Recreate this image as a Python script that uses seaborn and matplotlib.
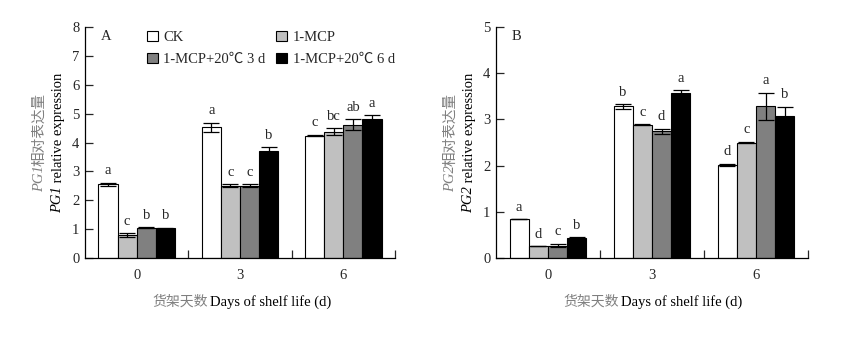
import matplotlib
matplotlib.use("Agg")
import matplotlib.pyplot as plt
import seaborn as sns
import pandas as pd
import numpy as np
from matplotlib.patches import Patch

sns.set_style("white")
plt.rcParams['font.family'] = ['Liberation Serif', 'Noto Sans CJK SC', 'DejaVu Sans']

days = ['0', '3', '6']
treatments = ['CK', '1-MCP', '1-MCP+20℃ 3 d', '1-MCP+20℃ 6 d']
colors = ['#ffffff', '#c0c0c0', '#808080', '#000000']

# Panel A: PG1
pg1_ck = [2.55, 4.52, 4.24]
pg1_mcp = [0.78, 2.50, 4.38]
pg1_3d = [1.05, 2.50, 4.62]
pg1_6d = [1.03, 3.72, 4.81]
pg1_err_ck = [0.06, 0.16, 0.03]
pg1_err_mcp = [0.07, 0.05, 0.12]
pg1_err_3d = [0.02, 0.05, 0.18]
pg1_err_6d = [0.01, 0.11, 0.13]
pg1_letters_ck = ['a', 'a', 'c']
pg1_letters_mcp = ['c', 'c', 'bc']
pg1_letters_3d = ['b', 'c', 'ab']
pg1_letters_6d = ['b', 'b', 'a']

# Panel B: PG2
pg2_ck = [0.84, 3.28, 2.02]
pg2_mcp = [0.25, 2.88, 2.50]
pg2_3d = [0.27, 2.74, 3.28]
pg2_6d = [0.43, 3.58, 3.08]
pg2_err_ck = [0.0, 0.05, 0.02]
pg2_err_mcp = [0.0, 0.01, 0.02]
pg2_err_3d = [0.04, 0.06, 0.30]
pg2_err_6d = [0.02, 0.05, 0.19]
pg2_letters_ck = ['a', 'b', 'd']
pg2_letters_mcp = ['d', 'c', 'c']
pg2_letters_3d = ['c', 'd', 'a']
pg2_letters_6d = ['b', 'a', 'b']

y_ticks_a = [0, 1, 2, 3, 4, 5, 6, 7, 8]
y_ticks_b = [0, 1, 2, 3, 4, 5]

fig = plt.figure(figsize=(8.47, 3.37), dpi=100)
axA = fig.add_axes([85/847, 1-258/337, 310/847, 231/337])
axB = fig.add_axes([496/847, 1-258/337, 312/847, 231/337])

FS = 10.5
renderer = fig.canvas.get_renderer()


def vertical_label(ax, xpx, parts):
    """parts: list of (text, style, color) drawn bottom-to-top, centered on axes mid-height."""
    w = ax.get_position().width * 847
    x = xpx / w
    texts = []
    for s, style, color in parts:
        t = ax.text(x, 0.5, s, transform=ax.transAxes, rotation=90, rotation_mode='anchor',
                    ha='left', va='center', fontsize=FS, style=style, color=color)
        texts.append(t)
    lengths = [t.get_window_extent(renderer).height for t in texts]
    total = sum(lengths)
    hpx = ax.get_position().height * 337
    start = 0.5 - (total / 2) / hpx
    pos = start
    for t, L in zip(texts, lengths):
        t.set_position((x, pos))
        pos += L / hpx


def panel(ax, vals, errs, letters, yticks, gene, tag, show_legend):
    rows = []
    for t, v in zip(treatments, vals):
        for d, val in zip(days, v):
            rows.append({'day': d, 'treatment': t, 'value': val})
    df = pd.DataFrame(rows)
    sns.barplot(data=df, x='day', y='value', hue='treatment', hue_order=treatments,
                order=days, palette=colors, edgecolor='black', linewidth=0.8,
                width=0.74, errorbar=None, ax=ax, legend=False, saturation=1)
    top = yticks[-1]
    for cont, v, e, L in zip(ax.containers, vals, errs, letters):
        xs = [b.get_x() + b.get_width()/2 for b in cont]
        ax.errorbar(xs, v, yerr=e, fmt='none', ecolor='black', elinewidth=0.9,
                    capsize=6, capthick=0.9)
        for x, val, er, lt in zip(xs, v, e, L):
            ax.annotate(lt, (x, val + er), xytext=(0, 4), textcoords='offset points',
                        ha='center', va='bottom', fontsize=FS)
    ax.set_xlim(-0.5, 2.5)
    ax.set_ylim(0, top)
    ax.set_yticks(yticks)
    ax.set_yticklabels([str(t) for t in yticks], fontsize=FS)
    ax.set_xticks([0, 1, 2])
    ax.set_xticklabels(days, fontsize=FS)
    ax.set_xticks([0.5, 1.5, 2.5], minor=True)
    ax.tick_params(axis='x', which='major', length=0, pad=8)
    ax.tick_params(axis='x', which='minor', direction='in', length=6, width=0.9, bottom=True)
    ax.tick_params(axis='y', direction='in', length=6, width=0.9, left=True, pad=4)
    for s in ['top', 'right']:
        ax.spines[s].set_visible(False)
    for s in ['left', 'bottom']:
        ax.spines[s].set_linewidth(0.9)
        ax.spines[s].set_color('black')
    ax.set_xlabel('')
    ax.set_ylabel('')
    ax.text(0.05, 0.985, tag, transform=ax.transAxes, ha='left', va='top', fontsize=FS)
    # y label, two lines
    vertical_label(ax, -45, [(gene, 'italic', '#7f7f7f'), ('相对表达量', 'normal', '#7f7f7f')])
    vertical_label(ax, -27, [(gene, 'italic', 'black'), (' relative expression', 'normal', 'black')])
    # x label
    ax.text(0.395, -0.19, '货架天数', transform=ax.transAxes, ha='right', va='center',
            fontsize=FS - 0.5, color='#7f7f7f', family=['Noto Sans CJK SC'])
    ax.text(0.402, -0.19, 'Days of shelf life (d)', transform=ax.transAxes, ha='left',
            va='center', fontsize=FS, color='black')
    if show_legend:
        order = [0, 2, 1, 3]
        handles = [Patch(facecolor=colors[i], edgecolor='black', linewidth=0.8) for i in order]
        labels = [treatments[i] for i in order]
        ax.legend(handles, labels, ncol=2, frameon=False, fontsize=FS,
                  loc='upper left', bbox_to_anchor=(0.182, 1.01),
                  handlelength=0.75, handleheight=0.75, handletextpad=0.35,
                  columnspacing=0.75, labelspacing=0.6, borderaxespad=0)


panel(axA, [pg1_ck, pg1_mcp, pg1_3d, pg1_6d],
      [pg1_err_ck, pg1_err_mcp, pg1_err_3d, pg1_err_6d],
      [pg1_letters_ck, pg1_letters_mcp, pg1_letters_3d, pg1_letters_6d],
      y_ticks_a, 'PG1', 'A', True)
panel(axB, [pg2_ck, pg2_mcp, pg2_3d, pg2_6d],
      [pg2_err_ck, pg2_err_mcp, pg2_err_3d, pg2_err_6d],
      [pg2_letters_ck, pg2_letters_mcp, pg2_letters_3d, pg2_letters_6d],
      y_ticks_b, 'PG2', 'B', False)

fig.savefig('out.png', dpi=100, facecolor='white')
